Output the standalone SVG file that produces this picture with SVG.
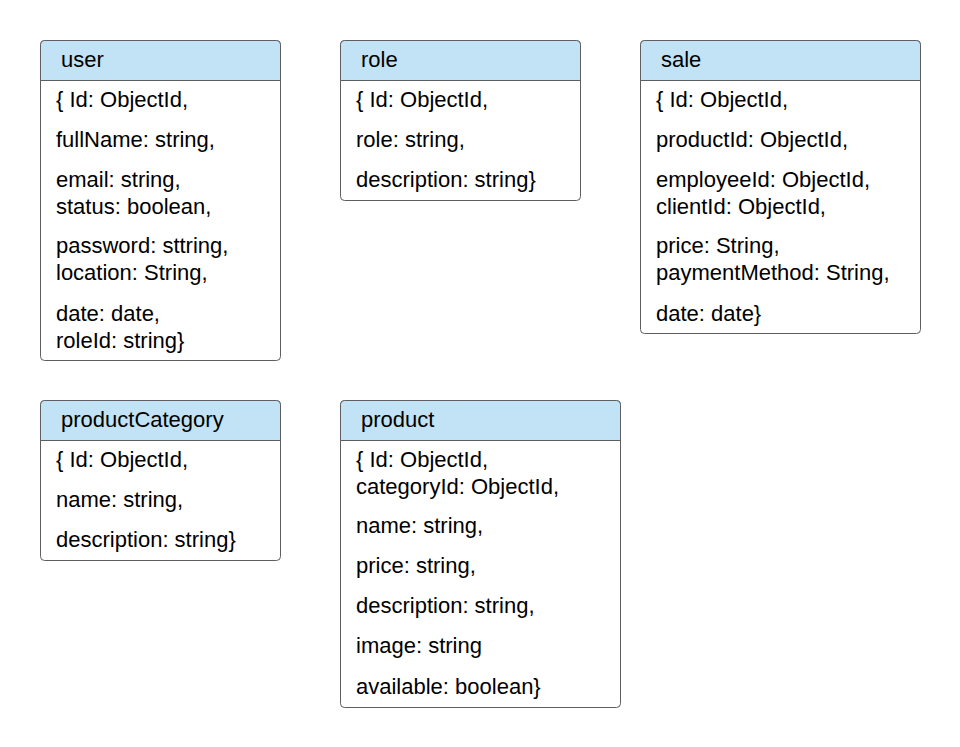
<svg xmlns="http://www.w3.org/2000/svg" width="960" height="747" viewBox="0 0 960 747">
<style>
.box{fill:#ffffff;stroke:#5e5e5e;stroke-width:1}
.hd{fill:#c2e3f5;stroke:#5e5e5e;stroke-width:1}
text{font-family:"Liberation Sans",Arial,sans-serif;font-size:22px;fill:#000}
</style>
<rect width="960" height="747" fill="#ffffff"/>
<g id="user">
<rect class="box" x="40.5" y="40.5" width="240" height="320" rx="4"/>
<path class="hd" d="M40.5 80.5 V44.5 a4 4 0 0 1 4 -4 H276.5 a4 4 0 0 1 4 4 V80.5 Z"/>
<text x="61" y="67">user</text>
<text x="56" y="107">{ Id: ObjectId,</text>
<text x="56" y="147">fullName: string,</text>
<text x="56" y="187">email: string,</text>
<text x="56" y="214">status: boolean,</text>
<text x="56" y="253">password: sttring,</text>
<text x="56" y="280">location: String,</text>
<text x="56" y="321">date: date,</text>
<text x="56" y="348">roleId: string}</text>
</g>
<g id="role">
<rect class="box" x="340.5" y="40.5" width="240" height="160" rx="4"/>
<path class="hd" d="M340.5 80.5 V44.5 a4 4 0 0 1 4 -4 H576.5 a4 4 0 0 1 4 4 V80.5 Z"/>
<text x="361" y="67">role</text>
<text x="356" y="107">{ Id: ObjectId,</text>
<text x="356" y="147">role: string,</text>
<text x="356" y="187">description: string}</text>
</g>
<g id="sale">
<rect class="box" x="640.5" y="40.5" width="280" height="293" rx="4"/>
<path class="hd" d="M640.5 80.5 V44.5 a4 4 0 0 1 4 -4 H916.5 a4 4 0 0 1 4 4 V80.5 Z"/>
<text x="661" y="67">sale</text>
<text x="656" y="107">{ Id: ObjectId,</text>
<text x="656" y="147">productId: ObjectId,</text>
<text x="656" y="187">employeeId: ObjectId,</text>
<text x="656" y="214">clientId: ObjectId,</text>
<text x="656" y="253">price: String,</text>
<text x="656" y="280">paymentMethod: String,</text>
<text x="656" y="321">date: date}</text>
</g>
<g id="productCategory">
<rect class="box" x="40.5" y="400.5" width="240" height="160" rx="4"/>
<path class="hd" d="M40.5 440.5 V404.5 a4 4 0 0 1 4 -4 H276.5 a4 4 0 0 1 4 4 V440.5 Z"/>
<text x="61" y="427">productCategory</text>
<text x="56" y="467">{ Id: ObjectId,</text>
<text x="56" y="507">name: string,</text>
<text x="56" y="547">description: string}</text>
</g>
<g id="product">
<rect class="box" x="340.5" y="400.5" width="280" height="307" rx="4"/>
<path class="hd" d="M340.5 440.5 V404.5 a4 4 0 0 1 4 -4 H616.5 a4 4 0 0 1 4 4 V440.5 Z"/>
<text x="361" y="427">product</text>
<text x="356" y="467">{ Id: ObjectId,</text>
<text x="356" y="494">categoryId: ObjectId,</text>
<text x="356" y="533">name: string,</text>
<text x="356" y="573">price: string,</text>
<text x="356" y="613">description: string,</text>
<text x="356" y="653">image: string</text>
<text x="356" y="694">available: boolean}</text>
</g>
<g id="connectors"></g>
</svg>
